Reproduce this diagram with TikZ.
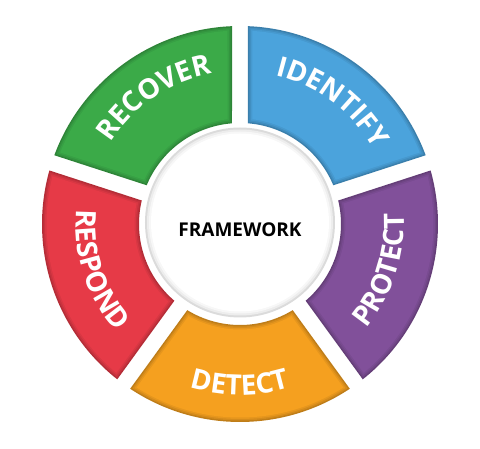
\documentclass[tikz,border=0pt]{standalone}
\usepackage{fontspec}
\setmainfont{Open Sans}
\usepackage{tikz}
\usetikzlibrary{decorations.text}

\definecolor{idblue}{HTML}{4BA3DC}
\definecolor{rcgreen}{HTML}{3BAA48}
\definecolor{rsred}{HTML}{E63A47}
\definecolor{dtorange}{HTML}{F5A01F}
\definecolor{prpurple}{HTML}{81509A}
\newcommand{\segfont}{\fontsize{28}{28}\selectfont\bfseries}

\begin{document}
\begin{tikzpicture}[x=1pt, y=1pt,
    seglabel/.style={decorate, decoration={text along path, text align=center,
        text color=white, text={|\segfont|#1}}}]
  \useasboundingbox (-240,-225) rectangle (240,224);
  % five ring parts, a bit darker at the edges
  \foreach \a/\c in {18/idblue, 90/rcgreen, 162/rsred, 234/dtorange, 306/prpurple}
    \foreach \d/\m in {0/78, 1.5/87, 3/94, 4.5/100}
      \fill[\c!\m!black] ({\a+asin((8+\d)/(198-\d))}:198-\d)
        arc[start angle={\a+asin((8+\d)/(198-\d))}, end angle={\a+72-asin((8+\d)/(198-\d))}, radius=198-\d]
        -- ({\a+72-asin((8+\d)/(101+\d))}:101+\d)
        arc[start angle={\a+72-asin((8+\d)/(101+\d))}, end angle={\a+asin((8+\d)/(101+\d))}, radius=101+\d]
        -- cycle;
  % middle disc
  \fill[gray!28] (0,1.5) circle (95);
  \fill[gray!14] (0,1.5) circle (93);
  \fill[gray!6] (0,1.5) circle (91);
  \fill[white] (0,1.5) circle (89);
  \node[font=\fontsize{19}{19}\selectfont\bfseries] (core) at (0,-6) {FRAMEWORK};
  % labels
  \path[seglabel=IDENTIFY] (99:153) arc[start angle=99, end angle=7, radius=153];
  \path[seglabel=RECOVER] (170:153) arc[start angle=170, end angle=78, radius=153];
  \path[seglabel=RESPOND] (152:164) arc[start angle=152, end angle=244, radius=164];
  \path[seglabel=DETECT] (224:171) arc[start angle=224, end angle=316, radius=171];
  \path[seglabel=PROTECT] (296:164) arc[start angle=296, end angle=388, radius=164];
\end{tikzpicture}
\end{document}
